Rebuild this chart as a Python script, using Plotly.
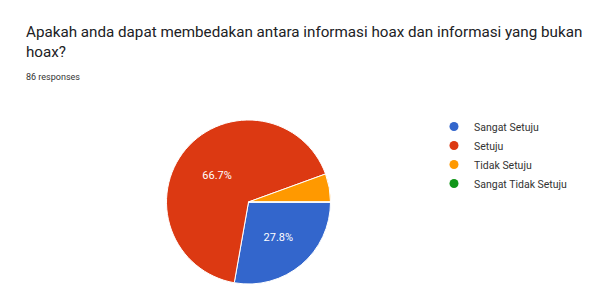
import plotly.graph_objects as go

labels = ["Sangat Setuju", "Setuju", "Tidak Setuju", "Sangat Tidak Setuju"]
counts = [10, 24, 2, 0]
colors = ["#3366cc", "#dc3912", "#ff9900", "#109618"]
title_line1 = "Apakah anda dapat membedakan antara informasi hoax dan informasi yang bukan"
title_line2 = "hoax?"
responses_text = "86 responses"

W, H = 600, 284
total = sum(counts)
slice_text = [f"{c / total * 100:.1f}%" if c / total >= 0.1 else "" for c in counts]

fig = go.Figure()
fig.add_trace(go.Pie(
    labels=labels,
    values=counts,
    text=slice_text,
    textinfo="text",
    textposition="inside",
    insidetextorientation="horizontal",
    textfont=dict(family="Roboto", size=11, color="white"),
    marker=dict(colors=colors, line=dict(color="white", width=1)),
    sort=False,
    direction="clockwise",
    rotation=90,
    showlegend=False,
    domain=dict(x=[165 / W, 332 / W], y=[0, 164 / H]),
    hoverinfo="label+percent",
))

# legend entries with circular markers
for lab, col in zip(labels, colors):
    fig.add_trace(go.Scatter(
        x=[None], y=[None], mode="markers", name=lab,
        marker=dict(color=col, size=9, symbol="circle"),
        showlegend=True, hoverinfo="skip",
    ))

fig.update_layout(
    width=W, height=H,
    margin=dict(l=0, r=0, t=0, b=0),
    paper_bgcolor="white",
    plot_bgcolor="white",
    font=dict(family="Roboto", color="#222222"),
    xaxis=dict(visible=False),
    yaxis=dict(visible=False),
    legend=dict(
        x=434 / W, y=1 - 112 / H, xanchor="left", yanchor="top",
        font=dict(family="Roboto", size=10.5, color="#333333"),
        bgcolor="rgba(0,0,0,0)",
        itemclick=False, itemdoubleclick=False,
    ),
    annotations=[
        dict(text=title_line1, x=24 / W, y=1 - 32 / H, xref="paper", yref="paper",
             xanchor="left", yanchor="middle", showarrow=False, align="left",
             font=dict(family="Roboto", size=15.2, color="#202124")),
        dict(text=title_line2, x=24 / W, y=1 - 52 / H, xref="paper", yref="paper",
             xanchor="left", yanchor="middle", showarrow=False, align="left",
             font=dict(family="Roboto", size=15.2, color="#202124")),
        dict(text=responses_text, x=24 / W, y=1 - 77 / H, xref="paper", yref="paper",
             xanchor="left", yanchor="middle", showarrow=False, align="left",
             font=dict(family="Roboto", size=9, color="#333333")),
    ],
)

fig.write_html(
    "out.html",
    config={"displayModeBar": False},
    post_script="document.body.style.margin='0px';document.body.style.overflow='hidden';",
)
